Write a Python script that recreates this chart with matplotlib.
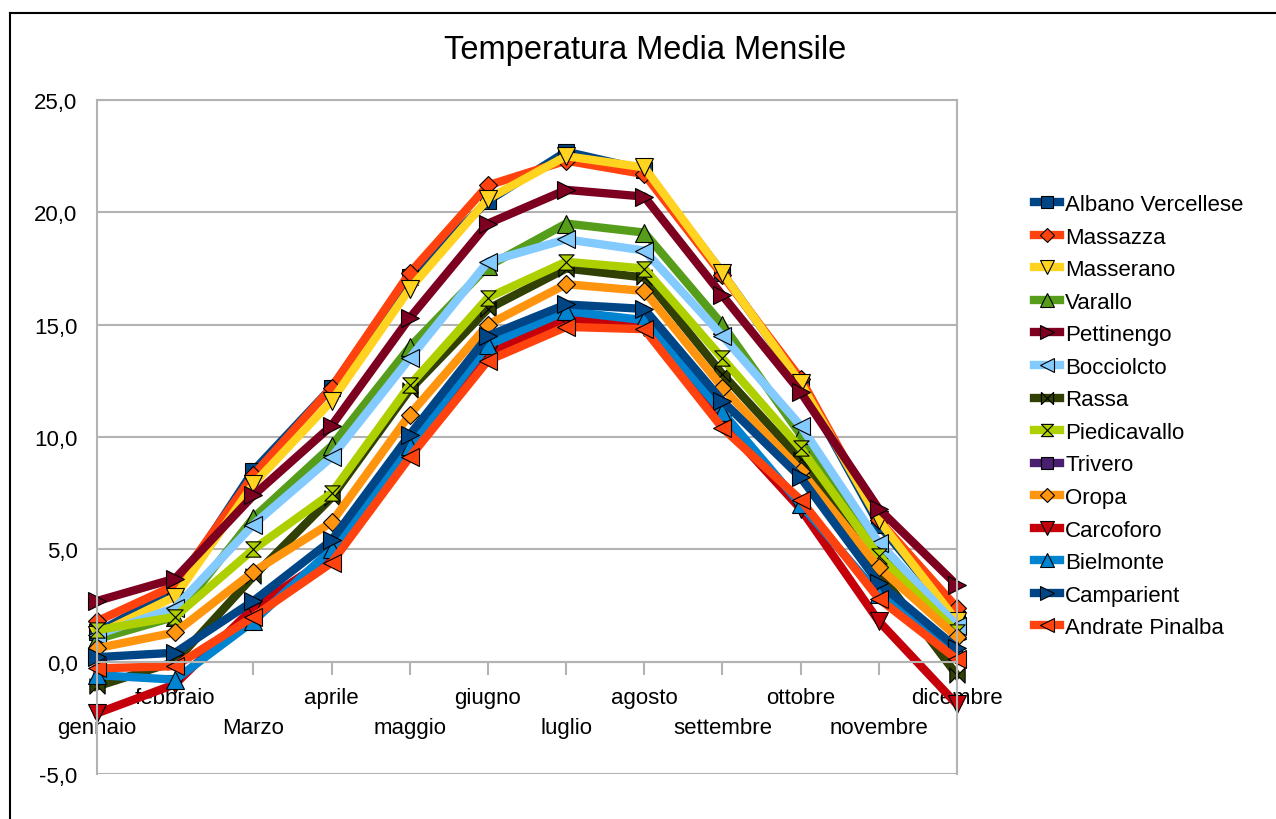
import matplotlib
matplotlib.use("Agg")
import matplotlib.pyplot as plt
import numpy as np
from matplotlib.path import Path
from matplotlib.lines import Line2D
from matplotlib.ticker import FuncFormatter

plt.rcParams['font.family'] = ['Liberation Sans', 'DejaVu Sans']

months = ['gennaio', 'febbraio', 'Marzo', 'aprile', 'maggio', 'giugno',
          'luglio', 'agosto', 'settembre', 'ottobre', 'novembre', 'dicembre']

albano = [1.3, 3.2, 8.5, 12.2, 17.1, 20.5, 22.7, 21.9, 17.3, 12.4, 6.1, 1.9]
massazza = [1.8, 3.4, 8.3, 12.2, 17.3, 21.2, 22.3, 21.7, 17.2, 12.6, 6.3, 2.4]
masserano = [1.2, 2.9, 7.9, 11.6, 16.6, 20.6, 22.5, 22.0, 17.3, 12.4, 6.3, 1.8]
varallo = [1.0, 2.0, 6.4, 9.6, 14.0, 17.6, 19.5, 19.1, 15.0, 10.1, 5.0, 1.4]
pettinengo = [2.7, 3.7, 7.4, 10.5, 15.3, 19.5, 21.0, 20.7, 16.3, 12.0, 6.8, 3.4]
bocciolcto = [1.2, 2.4, 6.1, 9.1, 13.5, 17.8, 18.8, 18.3, 14.5, 10.5, 5.3, 1.6]
rassa = [-1.1, 0.0, 3.8, 7.3, 12.1, 15.7, 17.5, 17.1, 12.8, 9.0, 4.0, -0.6]
piedicavallo = [1.4, 2.0, 5.0, 7.5, 12.3, 16.2, 17.8, 17.5, 13.5, 9.5, 4.7, 1.3]
trivero = [np.nan] * 12
oropa = [0.6, 1.3, 4.0, 6.2, 11.0, 15.0, 16.8, 16.5, 12.2, 8.5, 4.2, 1.1]
carcoforo = [-2.3, -1.0, 2.4, 4.7, 9.3, 13.7, 15.3, 14.9, 10.6, 6.8, 1.8, -1.9]
bielmonte = [-0.6, -0.8, 1.8, 5.0, 9.6, 14.1, 15.6, 15.2, 11.1, 7.0, 3.0, 0.5]
camparient = [0.2, 0.4, 2.7, 5.4, 10.1, 14.5, 15.9, 15.7, 11.6, 8.2, 3.5, 0.6]
andrate = [-0.3, -0.2, 2.0, 4.4, 9.1, 13.4, 14.9, 14.8, 10.4, 7.2, 2.8, 0.1]

# hourglass and bowtie shapes like the LibreOffice markers
hourglass = Path([(-1, 1), (1, 1), (-1, -1), (1, -1), (-1, 1)],
                 [Path.MOVETO, Path.LINETO, Path.LINETO, Path.LINETO, Path.CLOSEPOLY])
bowtie = Path([(-1, 1), (1, -1), (1, 1), (-1, -1), (-1, 1)],
              [Path.MOVETO, Path.LINETO, Path.LINETO, Path.LINETO, Path.CLOSEPOLY])

series = [
    ('Albano Vercellese', albano, '#004586', 's', 11),
    ('Massazza', massazza, '#ff420e', 'D', 9),
    ('Masserano', masserano, '#ffd320', 'v', 13),
    ('Varallo', varallo, '#579d1c', '^', 13),
    ('Pettinengo', pettinengo, '#7e0021', '>', 13),
    ('Bocciolcto', bocciolcto, '#83caff', '<', 13),
    ('Rassa', rassa, '#314004', bowtie, 11),
    ('Piedicavallo', piedicavallo, '#aecf00', hourglass, 11),
    ('Trivero', trivero, '#4b1f6f', 's', 11),
    ('Oropa', oropa, '#ff950e', 'D', 9),
    ('Carcoforo', carcoforo, '#c5000b', 'v', 13),
    ('Bielmonte', bielmonte, '#0084d1', '^', 13),
    ('Camparient', camparient, '#004586', '>', 13),
    ('Andrate Pinalba', andrate, '#ff420e', '<', 13),
]

fig = plt.figure(figsize=(12.76, 8.2), dpi=100)
ax = fig.add_axes([97 / 1276, 45 / 820, 860 / 1276, 674 / 820])

x = np.arange(len(months))
for name, vals, col, mk, ms in series:
    ax.plot(x, vals, color=col, lw=6, marker=mk, markersize=ms,
            markerfacecolor=col, markeredgecolor='black', markeredgewidth=0.8,
            label=name, clip_on=False)

ax.set_xlim(0, 11)
ax.set_ylim(-5, 25)
ax.set_yticks(np.arange(-5, 26, 5))
ax.yaxis.set_major_formatter(FuncFormatter(lambda v, p: f"{v:.1f}".replace('.', ',')))
ax.tick_params(axis='y', length=0, pad=14, labelsize=16)
ax.grid(axis='y', color='#b3b3b3', lw=1.5)
ax.set_axisbelow(True)

for s in ax.spines.values():
    s.set_color('#b3b3b3')
    s.set_linewidth(1.5)
ax.spines['bottom'].set_position(('data', 0))

ax.set_xticks(x[1::2], [months[i] for i in x[1::2]])
ax.set_xticks(x[0::2], [months[i] for i in x[0::2]], minor=True)
ax.tick_params(axis='x', which='major', length=9, width=1.5, color='#b3b3b3',
               labelsize=16, pad=9)
ax.tick_params(axis='x', which='minor', length=9, width=1.5, color='#b3b3b3',
               labelsize=16, pad=31)

fig.suptitle('Temperatura Media Mensile', x=645 / 1276, y=1 - 50 / 820,
             va='center', fontsize=23.5)

ax.legend(loc='upper left', bbox_to_anchor=(1034 / 1276, 1 - 195 / 820),
          bbox_transform=fig.transFigure, frameon=False, fontsize=16,
          handlelength=1.15, handletextpad=0.25, labelspacing=0.52,
          markerscale=0.8, borderaxespad=0, borderpad=0)

# frame lines at top and left of the original image
fig.add_artist(Line2D([10 / 1276, 1], [1 - 14 / 820] * 2, color='black', lw=1.5))
fig.add_artist(Line2D([10 / 1276] * 2, [0, 1 - 14 / 820], color='black', lw=1.5))

fig.savefig('out.png', dpi=100)
